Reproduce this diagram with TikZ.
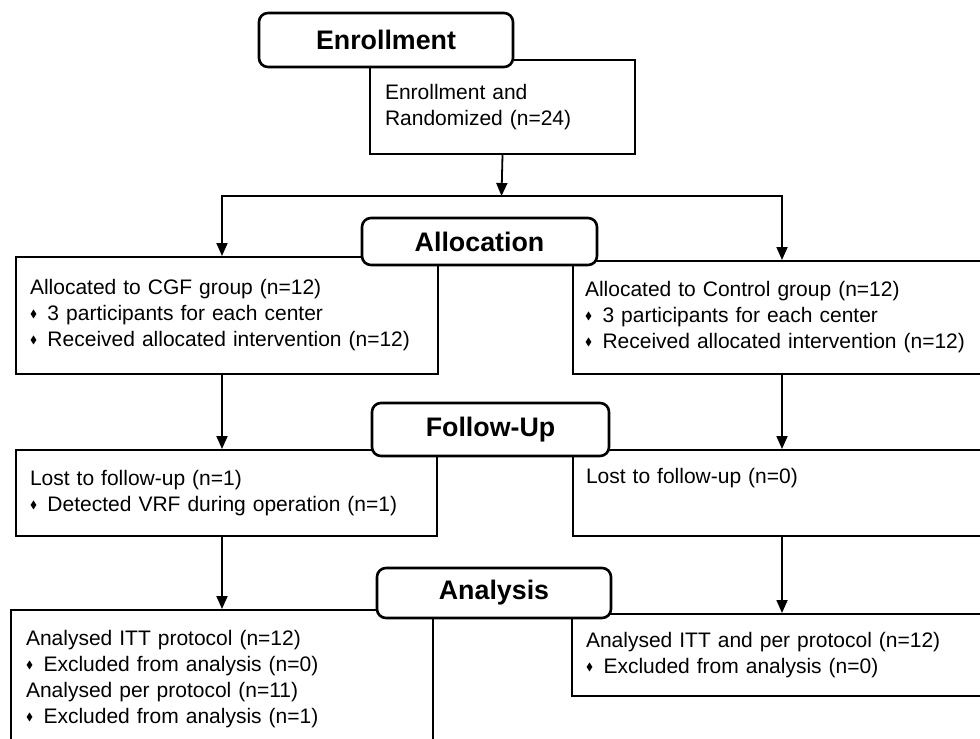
\documentclass[tikz,border=0pt]{standalone}
\usepackage{amssymb}
\usepackage{fontspec}
\setmainfont{Liberation Sans}
\usetikzlibrary{positioning,arrows.meta}
\newcommand{\itm}{\raisebox{0.3ex}{\scalebox{0.5}{$\blacklozenge$}}\hspace{0.5em}}

\begin{document}
\begin{tikzpicture}[
  x=0.5pt, y=-0.5pt,
  >={Triangle[length=6.5pt,width=5.5pt]},
  panel/.style={rectangle, draw=black, line width=1pt, anchor=north west, align=left,
                inner xsep=7pt, inner ysep=0pt, font=\fontsize{10.5pt}{13pt}\selectfont},
  stage/.style={rectangle, rounded corners=4.5pt, draw=black, line width=1.3pt, fill=white,
                inner sep=0pt, font=\fontsize{13.4pt}{16pt}\selectfont\bfseries},
  e/.style={->, line width=0.9pt, draw=black},
]
\useasboundingbox (0,0) rectangle (980,739);
\clip (0,0) rectangle (980,739);

% boxes
\node[panel, inner xsep=7.5pt, text width=117.5pt, minimum height=47pt] (enrBox) at (369,59)
  {Enrollment and\\Randomized (n=24)};
\node[panel, text width=197pt, minimum height=58.5pt] (allocL) at (15,256)
  {Allocated to CGF group (n=12)\\\itm 3 participants for each center\\\itm Received allocated intervention (n=12)};
\node[panel, inner xsep=6pt, text width=202pt, minimum height=56.5pt] (allocR) at (572,260)
  {Allocated to Control group (n=12)\\\itm 3 participants for each center\\\itm Received allocated intervention (n=12)};
\node[panel, text width=196.5pt, minimum height=43pt] (fuL) at (15,449)
  {Lost to follow-up (n=1)\\\itm Detected VRF during operation (n=1)};
\node[panel, inner xsep=6.5pt, text width=201pt, minimum height=43pt] (fuR) at (572,449)
  {Lost to follow-up (n=0)\\\strut};
\node[panel, inner xsep=7.5pt, text width=196pt, minimum height=69pt] (anL) at (10,609)
  {Analysed ITT protocol (n=12)\\\itm Excluded from analysis (n=0)\\Analysed per protocol (n=11)\\\itm Excluded from analysis (n=1)};
\node[panel, text width=200.5pt, minimum height=41pt] (anR) at (571,613)
  {Analysed ITT and per protocol (n=12)\\\itm Excluded from analysis (n=0)};

% stage headers
\node[stage, minimum width=127pt, minimum height=27pt] (enrHead) at (386,40) {Enrollment};
\node[stage, minimum width=117.5pt, minimum height=23.5pt] (allocHead) at (479.5,241.5) {Allocation};
\node[stage, minimum width=118.5pt, minimum height=26.5pt] (fuHead) at (490.5,429.5) {Follow-Up};
\node[stage, minimum width=117pt, minimum height=25pt] (anHead) at (494,593) {Analysis};

\coordinate (split) at (501.5,196);
\coordinate (colL) at (222,0);
\coordinate (colR) at (782,0);

\draw[e] (enrBox.south) -- (split);
\draw[e] (split) -| (allocL.north -| colL);
\draw[e] (split) -| (allocR.north -| colR);
\draw[e] (allocL.south -| colL) -- (fuL.north -| colL);
\draw[e] (allocR.south -| colR) -- (fuR.north -| colR);
\draw[e] (fuL.south -| colL) -- (anL.north -| colL);
\draw[e] (fuR.south -| colR) -- (anR.north -| colR);
\end{tikzpicture}
\end{document}
